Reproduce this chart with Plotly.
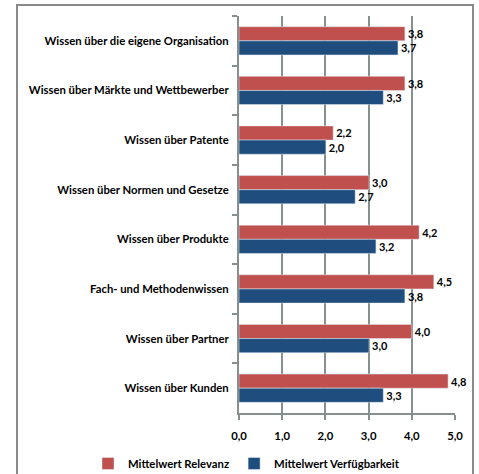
import plotly.graph_objects as go

categories = [
    "Wissen über die eigene Organisation",
    "Wissen über Märkte und Wettbewerber",
    "Wissen über Patente",
    "Wissen über Normen und Gesetze",
    "Wissen über Produkte",
    "Fach- und Methodenwissen",
    "Wissen über Partner",
    "Wissen über Kunden",
]
relevanz = [3.84, 3.84, 2.18, 3.01, 4.17, 4.51, 4.0, 4.84]
verfuegbarkeit = [3.68, 3.34, 2.01, 2.69, 3.17, 3.84, 3.01, 3.34]
x_ticks = [0, 1, 2, 3, 4, 5]

FONT = "Lato"
RED = "#C0504D"
BLUE = "#1F4E7E"
GRID = "#86908F"

fig = go.Figure()
fig.add_trace(go.Bar(
    y=categories, x=relevanz, orientation="h", name="Mittelwert Relevanz",
    marker_color=RED, texttemplate="<b>%{x:.1f}</b>", textposition="outside",
    textfont=dict(family=FONT, size=11, color="black"), cliponaxis=False,
))
fig.add_trace(go.Bar(
    y=categories, x=verfuegbarkeit, orientation="h", name="Mittelwert Verfügbarkeit",
    marker_color=BLUE, texttemplate="<b>%{x:.1f}</b>", textposition="outside",
    textfont=dict(family=FONT, size=11, color="black"), cliponaxis=False,
))

W, H = 479, 474
L, R, T, B = 239, 24, 16, 61
pw, ph = W - L - R, H - T - B

def px(x):
    return (x - L) / pw

def py(y):
    return (H - B - y) / ph

fig.add_shape(type="rect", xref="paper", yref="paper",
              x0=px(17), y0=py(480), x1=px(473), y1=py(5),
              line=dict(color="#8A8A8A", width=2), fillcolor="rgba(0,0,0,0)")

fig.update_layout(
    width=W, height=H,
    margin=dict(l=L, r=R, t=T, b=B, pad=0, autoexpand=False),
    paper_bgcolor="white", plot_bgcolor="white",
    separators=",.",
    barmode="group", bargap=0.43, bargroupgap=0.0,
    font=dict(family=FONT, size=11.3, color="black"),
    showlegend=True,
    legend=dict(orientation="h", x=px(88), xanchor="left", y=py(449), yanchor="top",
                font=dict(family=FONT, size=11.3, color="black", weight="bold"),
                traceorder="normal", itemwidth=30, tracegroupgap=0,
                bgcolor="rgba(0,0,0,0)"),
)
fig.update_xaxes(
    range=[0, 5], tickvals=x_ticks, tickformat=".1f",
    showgrid=True, gridcolor=GRID, gridwidth=2,
    showline=True, linecolor=GRID, linewidth=2,
    ticks="outside", ticklen=5, tickcolor=GRID, tickwidth=2,
    tickfont=dict(family=FONT, size=11.3, color="black", weight="bold"),
    ticklabelstandoff=6,
    zeroline=False, fixedrange=True, automargin=False,
)
fig.update_yaxes(
    autorange="reversed", type="category",
    showline=True, linecolor=GRID, linewidth=2,
    ticks="outside", ticklen=5, tickcolor=GRID, tickwidth=2,
    tickson="boundaries", showgrid=False,
    tickfont=dict(family=FONT, size=11.3, color="black", weight="bold"),
    ticklabelstandoff=6, fixedrange=True, automargin=False,
)
fig.write_html("out.html", config={"displayModeBar": False},
               post_script="document.body.style.margin='0';document.body.style.overflow='hidden';")
